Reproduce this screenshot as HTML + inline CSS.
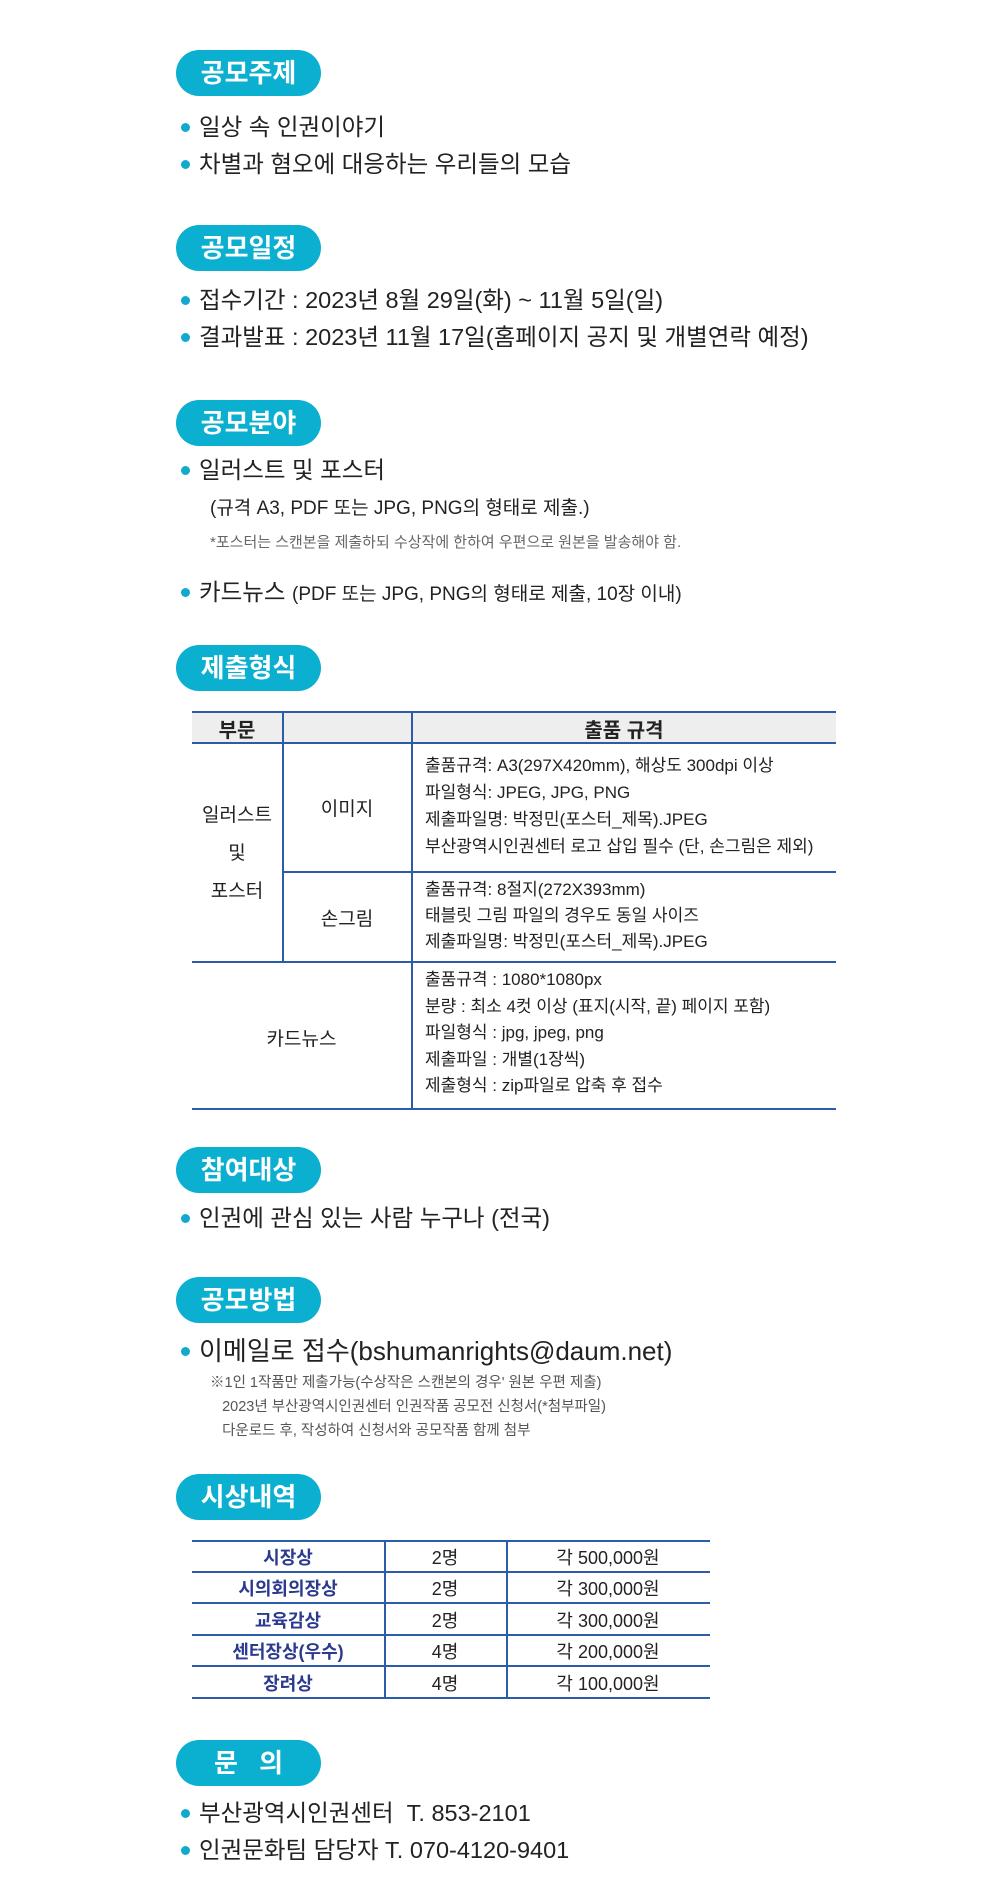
<!DOCTYPE html>
<html><head><meta charset="utf-8">
<style>
*{margin:0;padding:0;box-sizing:border-box}
body{width:1000px;height:1904px;background:#fff;position:relative;font-family:"Liberation Sans","Noto Sans CJK KR",sans-serif;color:#222;overflow:hidden}
.pill{position:absolute;left:176px;width:145px;height:46px;border-radius:23px;background:#0bafd0;color:#fff;font-weight:bold;font-size:26px;line-height:46px;text-align:center;letter-spacing:0px}
.b{position:absolute;left:181px;font-size:23.5px;line-height:30px;white-space:nowrap}
.b::before{content:"";position:absolute;left:0;top:11px;width:9px;height:9px;border-radius:50%;background:#12a9cf}
.b span{margin-left:18px}
.t{position:absolute;white-space:nowrap}
.hl{position:absolute;height:2px;background:#2a5caa}
.vl{position:absolute;width:2px;background:#2a5caa}
.c{position:absolute;text-align:center;font-size:19px}
.s{position:absolute;left:425px;font-size:17px;line-height:27px;white-space:nowrap;color:#222}
</style></head><body>

<div class="pill" style="top:50px">공모주제</div>
<div class="b" style="top:112px"><span>일상 속 인권이야기</span></div>
<div class="b" style="top:149px"><span>차별과 혐오에 대응하는 우리들의 모습</span></div>

<div class="pill" style="top:225px">공모일정</div>
<div class="b" style="top:285px"><span>접수기간 : 2023년 8월 29일(화) ~ 11월 5일(일)</span></div>
<div class="b" style="top:322px"><span>결과발표 : 2023년 11월 17일(홈페이지 공지 및 개별연락 예정)</span></div>

<div class="pill" style="top:400px">공모분야</div>
<div class="b" style="top:455px"><span>일러스트 및 포스터</span></div>
<div class="t" style="left:210px;top:493px;font-size:19px">(규격 A3, PDF 또는 JPG, PNG의 형태로 제출.)</div>
<div class="t" style="left:210px;top:531px;font-size:15px;color:#666">*포스터는 스캔본을 제출하되 수상작에 한하여 우편으로 원본을 발송해야 함.</div>
<div class="b" style="top:577px"><span>카드뉴스 <span style="margin:0;font-size:19px">(PDF 또는 JPG, PNG의 형태로 제출, 10장 이내)</span></span></div>

<div class="pill" style="top:645px">제출형식</div>
<div style="position:absolute;left:192px;top:712px;width:644px;height:30px;background:#eee"></div>
<div class="hl" style="left:192px;top:711px;width:644px"></div>
<div class="hl" style="left:192px;top:742px;width:644px"></div>
<div class="hl" style="left:283px;top:871px;width:553px"></div>
<div class="hl" style="left:192px;top:961px;width:644px"></div>
<div class="hl" style="left:192px;top:1108px;width:644px"></div>
<div class="vl" style="left:282px;top:711px;height:251px"></div>
<div class="vl" style="left:411px;top:711px;height:398px"></div>
<div class="c" style="left:192px;width:90px;top:714px;font-weight:bold;font-size:20px">부문</div>
<div class="c" style="left:412px;width:424px;top:714px;font-weight:bold;font-size:20px">출품 규격</div>
<div class="c" style="left:192px;width:90px;top:797px;line-height:38px">일러스트<br>및<br>포스터</div>
<div class="c" style="left:283px;width:128px;top:794px">이미지</div>
<div class="c" style="left:283px;width:128px;top:904px">손그림</div>
<div class="c" style="left:192px;width:219px;top:1024px">카드뉴스</div>
<div class="s" style="top:752px">출품규격: A3(297X420mm), 해상도 300dpi 이상<br>파일형식: JPEG, JPG, PNG<br>제출파일명: 박정민(포스터_제목).JPEG<br>부산광역시인권센터 로고 삽입 필수 (단, 손그림은 제외)</div>
<div class="s" style="top:877px;line-height:26px">출품규격: 8절지(272X393mm)<br>태블릿 그림 파일의 경우도 동일 사이즈<br>제출파일명: 박정민(포스터_제목).JPEG</div>
<div class="s" style="top:967px;line-height:26.5px">출품규격 : 1080*1080px<br>분량 : 최소 4컷 이상 (표지(시작, 끝) 페이지 포함)<br>파일형식 : jpg, jpeg, png<br>제출파일 : 개별(1장씩)<br>제출형식 : zip파일로 압축 후 접수</div>

<div class="pill" style="top:1147px">참여대상</div>
<div class="b" style="top:1203px"><span>인권에 관심 있는 사람 누구나 (전국)</span></div>

<div class="pill" style="top:1277px">공모방법</div>
<div class="b" style="top:1336px;font-size:26px"><span>이메일로 접수(bshumanrights@daum.net)</span></div>
<div class="t" style="left:210px;top:1371px;font-size:14.5px;line-height:24px;color:#555">※1인 1작품만 제출가능(수상작은 스캔본의 경우' 원본 우편 제출)<br>&nbsp;&nbsp;&nbsp;2023년 부산광역시인권센터 인권작품 공모전 신청서(*첨부파일)<br>&nbsp;&nbsp;&nbsp;다운로드 후, 작성하여 신청서와 공모작품 함께 첨부</div>

<div class="pill" style="top:1474px">시상내역</div>
<div class="hl" style="left:192px;top:1540px;width:518px"></div>
<div class="hl" style="left:192px;top:1571px;width:518px"></div>
<div class="hl" style="left:192px;top:1602px;width:518px"></div>
<div class="hl" style="left:192px;top:1634px;width:518px"></div>
<div class="hl" style="left:192px;top:1665px;width:518px"></div>
<div class="hl" style="left:192px;top:1697px;width:518px"></div>
<div class="vl" style="left:384px;top:1540px;height:158px"></div>
<div class="vl" style="left:506px;top:1540px;height:158px"></div>
<div style="position:absolute;left:192px;top:1543px;width:518px;font-size:18px;line-height:31.4px">
<div style="display:flex"><b style="width:192px;text-align:center;color:#2b3a8f">시장상</b><span style="width:122px;text-align:center">2명</span><span style="width:204px;text-align:center">각 500,000원</span></div>
<div style="display:flex"><b style="width:192px;text-align:center;color:#2b3a8f">시의회의장상</b><span style="width:122px;text-align:center">2명</span><span style="width:204px;text-align:center">각 300,000원</span></div>
<div style="display:flex"><b style="width:192px;text-align:center;color:#2b3a8f">교육감상</b><span style="width:122px;text-align:center">2명</span><span style="width:204px;text-align:center">각 300,000원</span></div>
<div style="display:flex"><b style="width:192px;text-align:center;color:#2b3a8f">센터장상(우수)</b><span style="width:122px;text-align:center">4명</span><span style="width:204px;text-align:center">각 200,000원</span></div>
<div style="display:flex"><b style="width:192px;text-align:center;color:#2b3a8f">장려상</b><span style="width:122px;text-align:center">4명</span><span style="width:204px;text-align:center">각 100,000원</span></div>
</div>

<div class="pill" style="top:1740px;word-spacing:14px">문 의</div>
<div class="b" style="top:1798px"><span>부산광역시인권센터&nbsp; T. 853-2101</span></div>
<div class="b" style="top:1835px"><span>인권문화팀 담당자 T. 070-4120-9401</span></div>
</body></html>
